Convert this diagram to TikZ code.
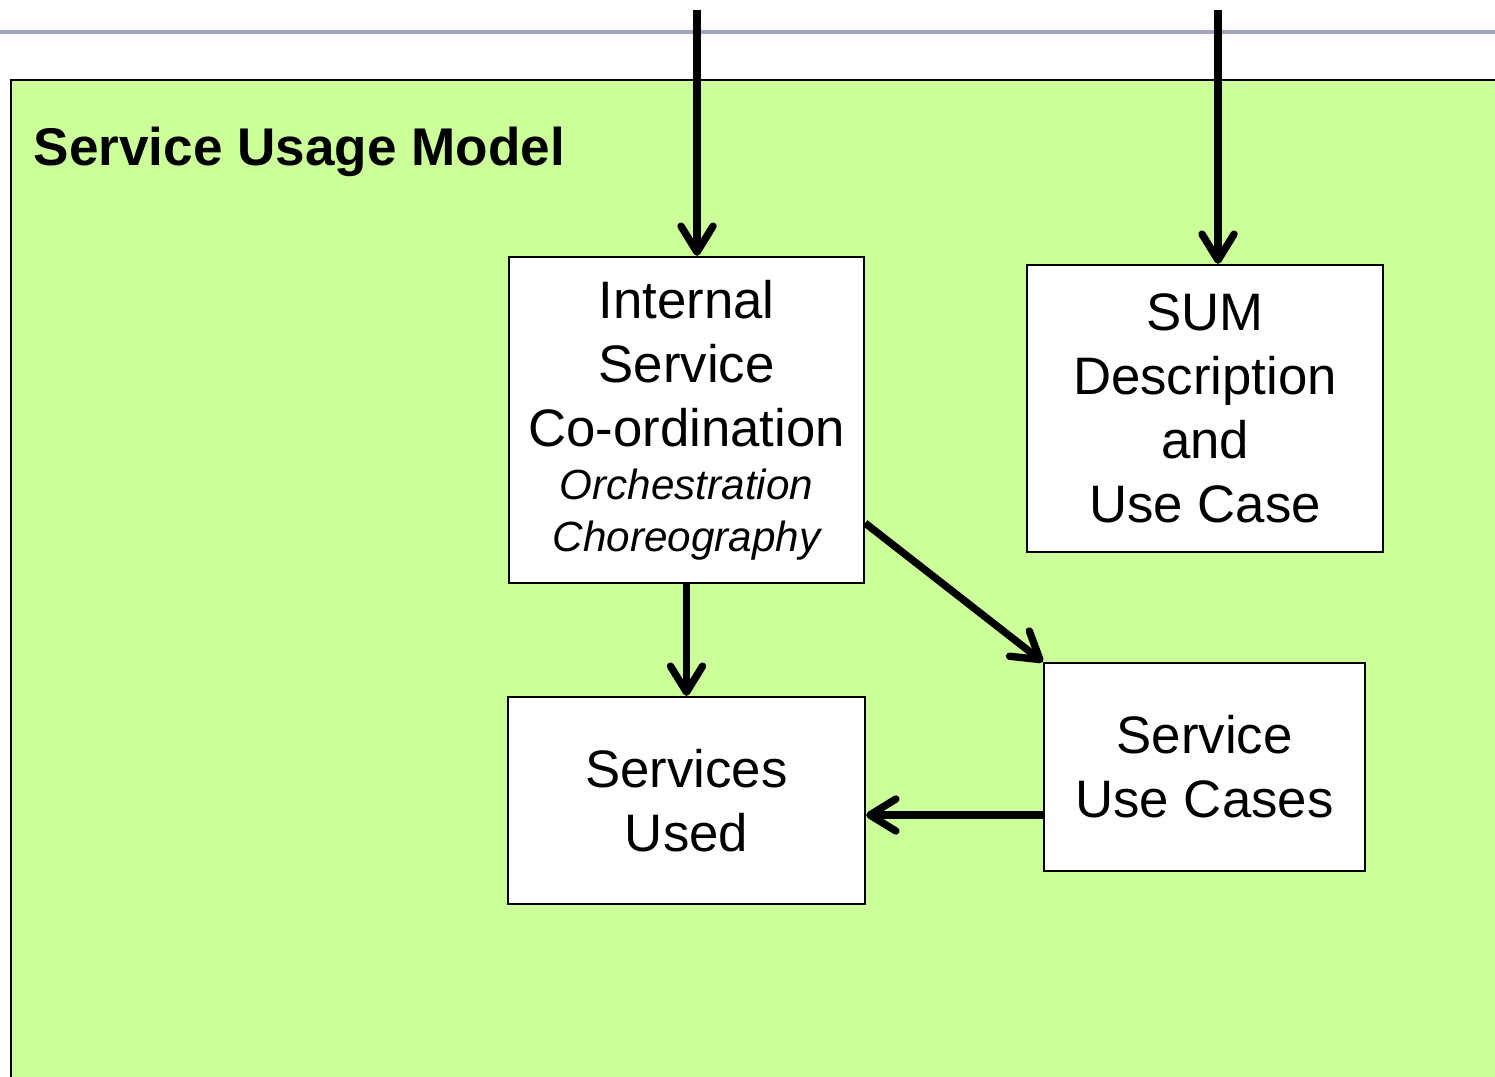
\documentclass[tikz,border=0pt]{standalone}
\usepackage{fontspec}
\setmainfont{Liberation Sans}
\usetikzlibrary{arrows.meta}
\definecolor{sumgreen}{RGB}{204,255,153}
\definecolor{rulegray}{RGB}{160,164,192}
\tikzset{
  box/.style={draw, fill=white, line width=0.6pt, inner sep=0pt, align=center,
    font=\fontsize{15}{18.2}\selectfont},
  flow/.style={line width=2.1pt,
    -{Straight Barb[length=2.6mm,width=3.2mm,line cap=round,line join=round]}}
}

\begin{document}
\begin{tikzpicture}[x=0.01cm,y=-0.01cm]
\useasboundingbox (0,0) rectangle (1495,1077);
% rule and model frame
\draw[rulegray, line width=0.9pt] (0,32) -- (1495,32);
\draw[fill=sumgreen, line width=0.6pt] (11,80) rectangle (1520,1100);
\node[anchor=base west, inner sep=0pt, font=\bfseries\fontsize{15.1}{18}\selectfont] (title) at (33,166) {Service Usage Model};

% boxes
\node[box, minimum width=3.55cm, minimum height=3.26cm] (coord) at (686.5,420)
  {Internal\\Service\\Co-ordination\\[-3pt]{\itshape\fontsize{12}{14.8}\selectfont Orchestration}\\[-3.5pt]{\itshape\fontsize{12}{14.8}\selectfont Choreography}};
\node[box, minimum width=3.56cm, minimum height=2.87cm] (sumd) at (1205,408.5) {SUM\\Description\\and\\Use Case};
\node[box, minimum width=3.57cm, minimum height=2.07cm] (used) at (686.5,800.5) {Services\\Used};
\node[box, minimum width=3.21cm, minimum height=2.08cm] (ucase) at (1204.5,767) {Service\\Use Cases};

% arrows
\coordinate (inA) at (697,10);
\coordinate (inB) at (1218,10);
\draw[flow] (inA) -- (inA |- coord.north);
\draw[flow] (inB) -- (inB |- sumd.north);
\draw[flow] (coord.south) -- (used.north);
\draw[flow] (coord.-30) -- (ucase.north west);
\draw[flow] ([yshift=-0.48cm]ucase.west) -- ([yshift=-0.48cm]ucase.west -| used.east);
\end{tikzpicture}
\end{document}
